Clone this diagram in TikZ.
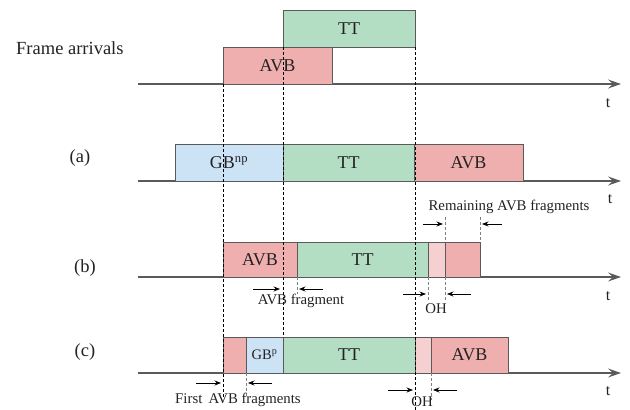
\documentclass[tikz,border=0pt]{standalone}
\usepackage{fontspec}
\setmainfont{Liberation Serif}
\usetikzlibrary{arrows.meta}
\definecolor{avbpink}{HTML}{F0AFAF}
\definecolor{ohpink}{HTML}{F6CFD0}
\definecolor{ttgreen}{HTML}{B3DEC3}
\definecolor{gbblue}{HTML}{CCE3F6}
\definecolor{edge}{HTML}{5A5A5A}
\definecolor{ink}{HTML}{222222}
\tikzset{
  seg/.style={draw=edge, line width=1pt, inner sep=0pt, outer sep=0pt,
    anchor=south west, text=ink, font=\fontsize{18}{18}\selectfont},
  axis/.style={draw=edge, line width=1.4pt,
    -{Stealth[length=13pt,width=9pt,inset=5pt]}},
  guide/.style={draw=black, line width=0.8pt, dash pattern=on 3pt off 2pt},
  tickline/.style={draw=gray, line width=0.8pt, dash pattern=on 3pt off 2pt},
  marker/.style={draw=black, line width=0.8pt,
    -{Stealth[length=6.5pt,width=5pt]}},
  lbl/.style={text=ink, inner sep=0pt, font=\fontsize{14.8}{14.8}\selectfont},
  rowlbl/.style={text=ink, inner sep=0pt, font=\fontsize{18.5}{18.5}\selectfont},
  tlbl/.style={text=ink, inner sep=0pt, font=\fontsize{16}{16}\selectfont}
}
\begin{document}
\begin{tikzpicture}[x=1pt,y=-1pt]
\useasboundingbox (0,0) rectangle (630,410);

% time axes
\coordinate (f0) at (138,84);  \coordinate (f1) at (621,84);
\coordinate (a0) at (138,181); \coordinate (a1) at (621,181);
\coordinate (b0) at (138,277); \coordinate (b1) at (621,277);
\coordinate (c0) at (138,373); \coordinate (c1) at (621,373);
\draw[axis] (f0) -- (f1);
\draw[axis] (a0) -- (a1);
\draw[axis] (b0) -- (b1);
\draw[axis] (c0) -- (c1);
\node[tlbl] (ft) at (608,103) {t};
\node[tlbl] (at) at (610,199) {t};
\node[tlbl] (bt) at (608,296) {t};
\node[tlbl] (ct) at (608,391) {t};

% row labels
\node[rowlbl, anchor=west] (lf) at (16,48) {Frame arrivals};
\node[rowlbl] (la) at (80,158) {(a)};
\node[rowlbl] (lb) at (85,268) {(b)};
\node[rowlbl] (lc) at (85,352) {(c)};

% frame arrivals
\node[seg, fill=avbpink, minimum width=109pt, minimum height=37pt] (fAVB) at (223,84) {AVB};
\node[seg, fill=ttgreen, minimum width=132pt, minimum height=37pt] (fTT) at (283,47) {TT};

% (a) non-preemptive
\node[seg, fill=gbblue, minimum width=108pt, minimum height=37pt] (aGB) at (175,181) {GB\textsuperscript{np}};
\node[seg, fill=ttgreen, minimum width=131pt, minimum height=37pt] (aTT) at (283,181) {TT};
\node[seg, fill=avbpink, minimum width=109pt, minimum height=37pt] (aAVB) at (414,181) {AVB};

% (b) preemption
\node[seg, fill=avbpink, minimum width=74pt, minimum height=35pt] (bAVB) at (223,277) {AVB};
\node[seg, fill=ttgreen, minimum width=131pt, minimum height=35pt] (bTT) at (297,277) {TT};
\node[seg, fill=ohpink, minimum width=17pt, minimum height=35pt] (bOH) at (428,277) {};
\node[seg, fill=avbpink, minimum width=35pt, minimum height=35pt] (bAVB2) at (445,277) {};

% (c) preemption with guard band
\node[seg, fill=avbpink, minimum width=23pt, minimum height=36pt] (cAVB) at (223,373) {};
\node[seg, fill=gbblue, minimum width=37pt, minimum height=36pt, font=\fontsize{14.5}{14.5}\selectfont] (cGB) at (246,373) {GB\textsuperscript{p}};
\node[seg, fill=ttgreen, minimum width=132pt, minimum height=36pt] (cTT) at (283,373) {TT};
\node[seg, fill=ohpink, minimum width=16pt, minimum height=36pt] (cOH) at (415,373) {};
\node[seg, fill=avbpink, minimum width=77pt, minimum height=36pt] (cAVB2) at (431,373) {AVB};

% long guide lines from the arrival instants
\coordinate (g1) at (223,398);
\coordinate (g3) at (415,410);
\draw[guide] (fAVB.south west) -- (g1);
\draw[guide] (fTT.south west) -- (cGB.north east);
\draw[guide] (fTT.south east) -- (g3);

% (b) remaining AVB fragments
\coordinate (rA) at (445,217);
\coordinate (rB) at (480,217);
\draw[tickline] (rA) -- (bOH.north east);
\draw[tickline] (rB) -- (bAVB2.north east);
\coordinate (rA0) at (423,224); \coordinate (rA1) at (443,224);
\coordinate (rB0) at (502,224); \coordinate (rB1) at (482,224);
\draw[marker] (rA0) -- (rA1);
\draw[marker] (rB0) -- (rB1);
\node[lbl] (rem) at (509,207) {Remaining AVB fragments};

% (b) AVB fragment
\coordinate (fB) at (297,294);
\draw[tickline] (bAVB.south east) -- (fB);
\coordinate (fa0) at (253,289); \coordinate (fa1) at (280,289);
\coordinate (fb0) at (323,289); \coordinate (fb1) at (299,289);
\draw[marker] (fa0) -- (fa1);
\draw[marker] (fb0) -- (fb1);
\node[lbl] (frag) at (301,301) {AVB fragment};

% (b) overhead
\coordinate (oA) at (428,300);
\coordinate (oB) at (445,300);
\draw[tickline] (bOH.south west) -- (oA);
\draw[tickline] (bOH.south east) -- (oB);
\coordinate (oa0) at (403,294); \coordinate (oa1) at (426,294);
\coordinate (ob0) at (471,294); \coordinate (ob1) at (447,294);
\draw[marker] (oa0) -- (oa1);
\draw[marker] (ob0) -- (ob1);
\node[lbl] (ohb) at (436,309) {OH};

% (c) first AVB fragments
\coordinate (pB) at (246,396);
\draw[tickline] (cAVB.south east) -- (pB);
\coordinate (pa0) at (196,383); \coordinate (pa1) at (221,383);
\coordinate (pb0) at (272,383); \coordinate (pb1) at (248,383);
\draw[marker] (pa0) -- (pa1);
\draw[marker] (pb0) -- (pb1);
\node[lbl] (first) at (238,400) {First\, AVB fragments};

% (c) overhead
\coordinate (qB) at (431,400);
\draw[tickline] (cOH.south east) -- (qB);
\coordinate (qa0) at (388,390); \coordinate (qa1) at (413,390);
\coordinate (qb0) at (457,390); \coordinate (qb1) at (433,390);
\draw[marker] (qa0) -- (qa1);
\draw[marker] (qb0) -- (qb1);
\node[lbl] (ohc) at (422,402) {OH};
\end{tikzpicture}
\end{document}
